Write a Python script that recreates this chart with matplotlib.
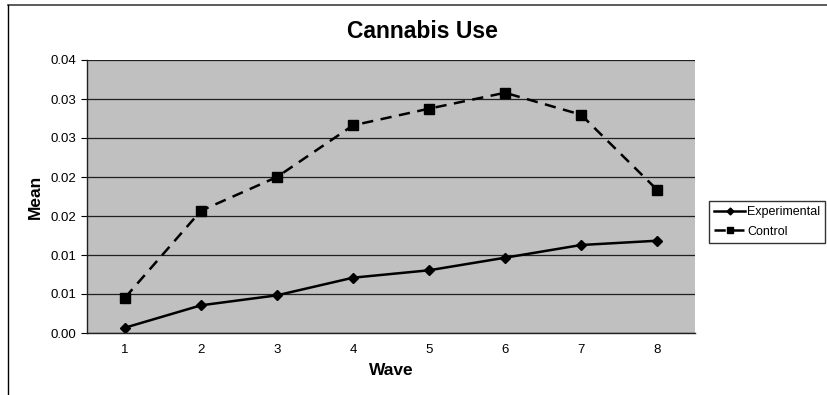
import matplotlib
matplotlib.use("Agg")
import matplotlib.pyplot as plt
from matplotlib.lines import Line2D

plt.rcParams['font.family'] = ['Liberation Sans', 'DejaVu Sans']

waves = [1, 2, 3, 4, 5, 6, 7, 8]
experimental = [0.00068, 0.00355, 0.00483, 0.00709, 0.00804, 0.00965, 0.01128, 0.01183]
control = [0.00453, 0.01568, 0.0200, 0.02662, 0.02876, 0.0308, 0.02799, 0.01837]
yticks = [0.0, 0.005, 0.01, 0.015, 0.02, 0.025, 0.03, 0.035]
ytick_labels = ["0.00", "0.01", "0.01", "0.02", "0.02", "0.03", "0.03", "0.04"]
title = "Cannabis Use"
xlabel = "Wave"
ylabel = "Mean"

W, H = 827, 395
fig = plt.figure(figsize=(W / 100, H / 100), dpi=100)
ax = fig.add_axes([87 / W, 1 - 333 / H, (695 - 87) / W, (333 - 60) / H])
ax.set_facecolor('#C0C0C0')

ax.plot(waves, experimental, color='black', lw=1.8, marker='D', markersize=5,
        label='Experimental')
ax.plot(waves, control, color='black', lw=1.8, marker='s', markersize=6.5,
        dashes=(4.5, 3.0), label='Control')

ax.set_xlim(0.5, 8.5)
ax.set_ylim(0, 0.035)
ax.set_xticks(waves)
ax.set_xticklabels([str(w) for w in waves])
ax.set_yticks(yticks)
ax.set_yticklabels(ytick_labels)
ax.tick_params(axis='x', length=0, labelsize=9.5, pad=8)
ax.tick_params(axis='y', length=4, direction='out', labelsize=9.5, pad=4)
ax.grid(axis='y', color='#202020', lw=0.9)
ax.set_axisbelow(True)
for s in ['top', 'right']:
    ax.spines[s].set_visible(False)
for s in ['left', 'bottom']:
    ax.spines[s].set_color('#202020')
    ax.spines[s].set_linewidth(1.0)

ax.set_xlabel(xlabel, fontsize=12.5, fontweight='bold', labelpad=5)
ax.set_ylabel(ylabel, fontsize=12.5, fontweight='bold', labelpad=5)
fig.text(422 / W, 1 - 31 / H, title, fontsize=16.5, fontweight='bold',
         ha='center', va='center')

leg = fig.legend(loc='upper left', bbox_to_anchor=(709 / W, 1 - 201 / H),
                 borderaxespad=0, fontsize=9, frameon=True, fancybox=False,
                 handlelength=2.5, handletextpad=0.15, borderpad=0.4,
                 labelspacing=0.6, markerscale=0.7)
leg.get_frame().set_edgecolor('black')
leg.get_frame().set_linewidth(1.0)

# outer chart border
fig.add_artist(Line2D([8 / W, 1.0], [1 - 5 / H, 1 - 5 / H], transform=fig.transFigure,
                      color='#404040', lw=1.2))
fig.add_artist(Line2D([8 / W, 8 / W], [0, 1 - 5 / H], transform=fig.transFigure,
                      color='black', lw=1.0))

fig.savefig('out.png', dpi=100)
